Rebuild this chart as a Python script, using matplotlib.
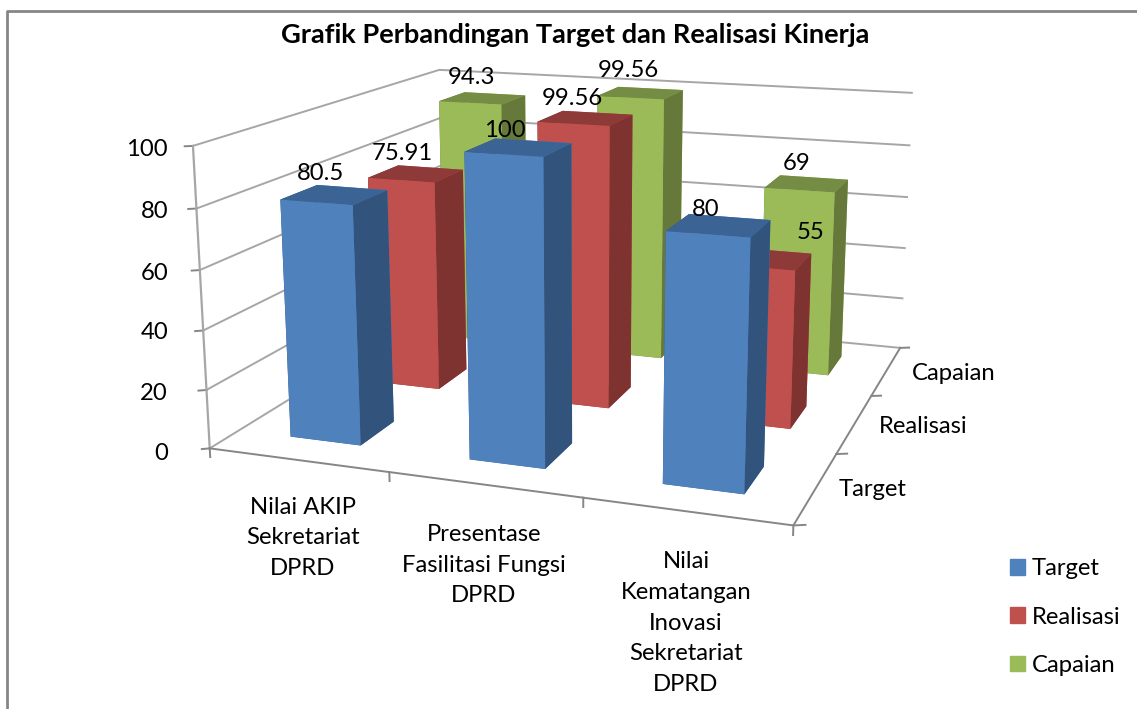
import numpy as np
import matplotlib
matplotlib.use('Agg')
import matplotlib.pyplot as plt
from matplotlib.lines import Line2D
from matplotlib.patches import Patch
from mpl_toolkits.mplot3d import proj3d

categories = ['Nilai AKIP\nSekretariat\nDPRD', 'Presentase\nFasilitasi Fungsi\nDPRD',
              'Nilai\nKematangan\nInovasi\nSekretariat\nDPRD']
series = ['Target', 'Realisasi', 'Capaian']
target = [80.5, 100, 80]
realisasi = [75.91, 99.56, 55]
capaian = [94.3, 99.56, 69]
z_ticks = [0, 20, 40, 60, 80, 100]

# warna: depan, atas, samping
colors = {
    'Target': ('#4F81BD', '#3B6495', '#31537C'),
    'Realisasi': ('#C0504D', '#8E3A38', '#7E3331'),
    'Capaian': ('#9BBB59', '#748C43', '#66793A'),
}
grid_col = '#A6A6A6'
axis_col = '#868686'

# geser label nilai (piksel)
label_shift = {
    'Target': [(-13, -6), (-14, -12), (-14, -13)],
    'Realisasi': [(-13, -4), (-13, -6), (44, 0)],
    'Capaian': [(-11, -2), (-12, -1), (-11, -4)],
}

W, H = 1137, 709
fs = 17.2
plt.rcParams['font.family'] = ['Lato', 'DejaVu Sans']
fig = plt.figure(figsize=(W / 100, H / 100), dpi=100)
ax = fig.add_axes([0, 0, 1, 1], projection='3d')
ax.set_xlim(0, 3, view_margin=0)
ax.set_ylim(0, 3, view_margin=0)
ax.set_zlim(0, 100, view_margin=0)
ax.view_init(elev=13.886, azim=-70.611)
ax.set_proj_type('persp', focal_length=0.4006)
ax.set_box_aspect((1, 0.9688, 0.516))

# posisi axes dari hasil kalibrasi
s, tx, ty = 4303.29, 585.57, 258.03
xl = ax.viewLim.intervalx
yl = ax.viewLim.intervaly
ax.set_position([(tx + s * xl[0]) / W, (H - ty + s * yl[0]) / H,
                 s * (xl[1] - xl[0]) / W, s * (yl[1] - yl[0]) / H])
ax.set_axis_off()
ax.computed_zorder = False

# grid dinding
for z in z_ticks:
    ax.plot([0, 0, 3], [0, 3, 3], [z, z, z], color=grid_col, lw=1.4, zorder=1)
    ax.plot([-0.032, 0], [-0.023, 0], [z, z], color=axis_col, lw=1.4, zorder=1)
ax.plot([0, 0], [0, 0], [0, 100], color=grid_col, lw=1.6, zorder=1)
ax.plot([0, 3, 3], [0, 0, 3], [0, 0, 0], color=axis_col, lw=1.4, zorder=1)
for i in range(4):
    ax.plot([i, i], [0, 0], [0, -3], color=axis_col, lw=1.4, zorder=1)
    ax.plot([3, 3.05], [i, i + 0.025], [0, 0], color=axis_col, lw=1.4, zorder=1)

# batang: belakang ke depan, kiri ke kanan
bar_w = 0.4
bar_d = 0.4
z_ord = 2
values = {'Target': target, 'Realisasi': realisasi, 'Capaian': capaian}
for j in [2, 1, 0]:
    name = series[j]
    front, top, side = colors[name]
    for i, v in enumerate(values[name]):
        ax.bar3d(i + 0.5 - bar_w / 2, j + 0.5 - bar_d / 2, 0, bar_w, bar_d, v,
                 color=[top, top, front, front, side, side], shade=False,
                 edgecolor='none', zorder=z_ord)
        z_ord += 1

# label nilai
M = ax.get_proj()
for j in [2, 1, 0]:
    name = series[j]
    for i, v in enumerate(values[name]):
        X, Y, _ = proj3d.proj_transform(i + 0.5, j + 0.5, v + 9, M)
        ax.annotate(f'{v:g}', (X, Y), xytext=label_shift[name][i], textcoords='offset pixels',
                    fontsize=fs, ha='center', va='center', color='black', zorder=50,
                    annotation_clip=False)


def px_text(x, y, t, **kw):
    fig.text(x / W, 1 - y / H, t, **kw)


for z, y in zip(z_ticks, [453, 393, 333, 273, 211, 150]):
    px_text(168, y, str(z), ha='right', va='center', fontsize=fs)
for t, x, y in zip(categories, [303, 484, 686], [538, 565, 623]):
    px_text(x, y, t, ha='center', va='center', fontsize=fs, linespacing=1.56)
for t, x, y in zip(series, [873, 923, 954], [490, 427, 374]):
    px_text(x, y, t, ha='center', va='center', fontsize=fs)
px_text(575, 35, 'Grafik Perbandingan Target dan Realisasi Kinerja', ha='center', va='center',
        fontsize=19.6, fontweight='bold')

handles = [Patch(color=colors[n][0], label=n) for n in series]
fig.legend(handles=handles, loc='center left', bbox_to_anchor=(1010 / W, 1 - 617 / H), frameon=False,
           fontsize=fs, handlelength=0.63, handleheight=0.63, handletextpad=0.28, labelspacing=1.14,
           borderpad=0, borderaxespad=0)

# bingkai kiri dan atas
fig.add_artist(Line2D([7 / W, 7 / W, 1], [0, 1 - 11 / H, 1 - 11 / H], color=axis_col, lw=2))

fig.savefig('out.png', dpi=100)
